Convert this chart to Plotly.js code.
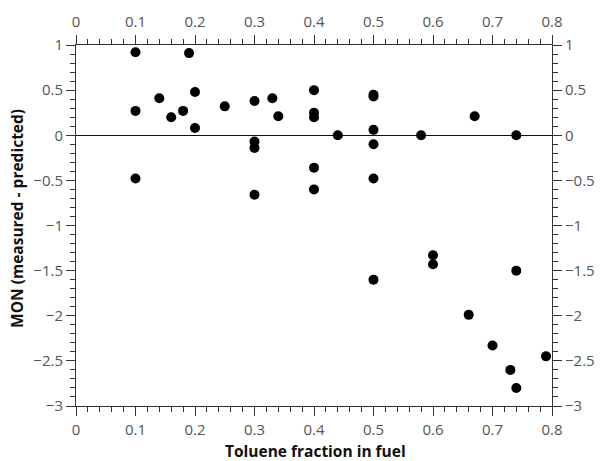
<!DOCTYPE html>
<html>
<head>
<meta charset="utf-8">
<script src="https://cdn.plot.ly/plotly-3.0.1.min.js"></script>
<style>html,body{margin:0;padding:0;background:#fff;}#chart{width:601px;height:461px;}</style>
</head>
<body>
<div id="chart"></div>
<script>
const tolueneFraction = [0.10, 0.19, 0.14, 0.20, 0.10, 0.16, 0.18, 0.20, 0.25, 0.30, 0.33, 0.34, 0.40, 0.40, 0.40, 0.44, 0.30, 0.30,
  0.10, 0.40, 0.40, 0.30, 0.50, 0.50, 0.50, 0.50, 0.58, 0.67, 0.74, 0.50, 0.60, 0.60, 0.74, 0.50, 0.66, 0.70, 0.79, 0.73, 0.74];
const monError = [0.92, 0.91, 0.41, 0.48, 0.27, 0.20, 0.27, 0.08, 0.32, 0.38, 0.41, 0.21, 0.50, 0.25, 0.20, 0.00, -0.07, -0.14,
  -0.48, -0.36, -0.60, -0.66, 0.45, 0.43, 0.06, -0.10, 0.00, 0.21, 0.00, -0.48, -1.33, -1.43, -1.50, -1.60, -1.99, -2.33, -2.45, -2.60, -2.80];
const xTicks = [0, 0.1, 0.2, 0.3, 0.4, 0.5, 0.6, 0.7, 0.8];
const yTicks = [1, 0.5, 0, -0.5, -1, -1.5, -2, -2.5, -3];
const xTitle = 'Toluene fraction in fuel';
const yTitle = 'MON (measured - predicted)';

const tickFont = {family: 'Open Sans, Noto Sans, sans-serif', size: 15, color: '#555'};
const titleFont = {family: 'Open Sans, Noto Sans, sans-serif', size: 15.5, color: '#111', weight: 'bold'};

const baseX = {
  range: [0, 0.8], tickmode: 'array', tickvals: xTicks, ticktext: xTicks.map(v => String(v)),
  ticks: 'outside', ticklen: 9, tickwidth: 1, tickcolor: '#333',
  minor: {dtick: 0.02, ticklen: 5, tickwidth: 1, tickcolor: '#333', ticks: 'outside'},
  showline: true, linecolor: '#333', linewidth: 1, showgrid: false, zeroline: false,
  tickfont: tickFont, fixedrange: true
};
const baseY = {
  range: [-3, 1], tickmode: 'array', tickvals: yTicks,
  ticks: 'outside', ticklen: 9, tickwidth: 1, tickcolor: '#333',
  minor: {dtick: 0.1, ticklen: 5, tickwidth: 1, tickcolor: '#333', ticks: 'outside'},
  showline: true, linecolor: '#333', linewidth: 1, showgrid: false,
  tickfont: tickFont, fixedrange: true
};

const traces = [
  {x: tolueneFraction, y: monError, type: 'scatter', mode: 'markers',
   marker: {color: '#000', size: 10}, xaxis: 'x', yaxis: 'y', hoverinfo: 'x+y'},
  {x: tolueneFraction, y: monError, type: 'scatter', mode: 'markers',
   marker: {color: 'rgba(0,0,0,0)', size: 1}, xaxis: 'x2', yaxis: 'y2', hoverinfo: 'skip', showlegend: false}
];

const layout = {
  width: 601, height: 461,
  margin: {l: 76, r: 49, t: 45, b: 55},
  paper_bgcolor: '#fff', plot_bgcolor: '#fff',
  showlegend: false,
  xaxis: Object.assign({}, baseX, {side: 'bottom', anchor: 'y', ticklabelstandoff: 1}),
  yaxis: Object.assign({}, baseY, {side: 'left', anchor: 'x', zeroline: true, zerolinecolor: '#111', zerolinewidth: 1}),
  xaxis2: Object.assign({}, baseX, {side: 'top', overlaying: 'x', anchor: 'y', ticklabelstandoff: 2}),
  yaxis2: Object.assign({}, baseY, {side: 'right', overlaying: 'y', anchor: 'x', zeroline: false}),
  annotations: [
    {text: xTitle, font: titleFont, showarrow: false, borderpad: 0,
     xref: 'paper', yref: 'paper', x: 0.504, y: -0.158, xanchor: 'center', yanchor: 'bottom'},
    {text: yTitle, font: titleFont, textangle: -90, showarrow: false,
     xref: 'paper', yref: 'paper', x: -0.124, y: 0.521, xanchor: 'center', yanchor: 'middle'}
  ]
};

Plotly.newPlot('chart', traces, layout, {displayModeBar: false, staticPlot: true});
</script>
</body>
</html>
